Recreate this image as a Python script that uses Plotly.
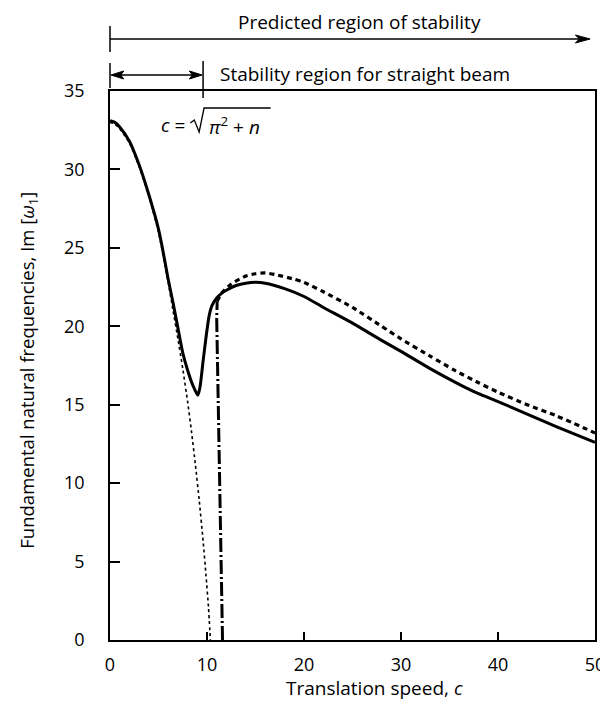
import plotly.graph_objects as go

# Solid curve (predicted)
solid_c = [0, 0.5, 1, 2, 3, 4, 5, 5.4, 6, 6.5, 7, 7.5, 8, 8.5, 9.06, 9.3, 9.6, 9.9, 10.2, 10.5, 11.0, 11.5, 12, 13, 14, 15, 16, 18, 20, 22, 25, 28, 30, 33, 36, 38, 40, 43, 46, 50]
solid_v = [33.1, 33.0, 32.7, 31.8, 30.3, 28.4, 26.2, 25.0, 23.0, 21.5, 19.9, 18.3, 17.2, 16.3, 15.6, 16.2, 17.8, 19.3, 20.6, 21.3, 21.8, 22.1, 22.3, 22.6, 22.75, 22.8, 22.75, 22.4, 21.9, 21.2, 20.2, 19.1, 18.4, 17.3, 16.3, 15.7, 15.2, 14.4, 13.6, 12.6]

# Dotted curve (straight beam)
dot_c = [0, 0.5, 1, 2, 3, 4, 5, 6, 6.5, 7, 7.5, 8, 8.4, 8.8, 9.2, 9.6, 9.9, 10.15, 10.35]
dot_v = [33.0, 32.9, 32.6, 31.7, 30.2, 28.3, 26.0, 22.8, 21.0, 19.2, 17.3, 15.2, 13.3, 11.2, 8.9, 6.3, 4.1, 2.1, 0]

# Dash-dot branch
dd_c = [11.6, 11.45, 11.3, 11.18, 11.08, 11.0, 11.05]
dd_v = [0, 5, 10, 14, 18, 20.5, 21.6]

# Dashed curve
dash_c = [11.05, 11.5, 12.5, 14, 15, 16, 17, 19, 20, 22, 25, 28, 30, 33, 35.5, 38, 40, 43, 46, 50]
dash_v = [21.6, 22.1, 22.7, 23.2, 23.35, 23.4, 23.3, 23.0, 22.8, 22.2, 21.2, 20.0, 19.2, 18.1, 17.2, 16.4, 15.8, 15.0, 14.3, 13.2]

x_ticks = [0, 10, 20, 30, 40, 50]
y_ticks = [0, 5, 10, 15, 20, 25, 30, 35]

FONT = "Open Sans"
fig = go.Figure()
fig.add_trace(go.Scatter(x=dot_c, y=dot_v, mode="lines", line=dict(color="black", width=1.6, dash="dot", shape="spline", smoothing=0.5), showlegend=False))
fig.add_trace(go.Scatter(x=solid_c, y=solid_v, mode="lines", line=dict(color="black", width=3, shape="spline", smoothing=0.5), showlegend=False))
fig.add_trace(go.Scatter(x=dd_c, y=dd_v, mode="lines", line=dict(color="black", width=3, dash="14px,3px,2px,3px"), showlegend=False))
fig.add_trace(go.Scatter(x=dash_c, y=dash_v, mode="lines", line=dict(color="black", width=3.2, dash="5px,4px", shape="spline", smoothing=0.6), showlegend=False))

L, R, T, B = 102, 11, 83, 70
W, H = 608, 702
pw, ph = W - L - R, H - T - B

def px(xp):
    return (xp - L) / pw

def py(yp):
    return (H - B - yp) / ph

def path(points, close=False):
    s = "M " + " L ".join("{:.5f},{:.5f}".format(px(a), py(b)) for a, b in points)
    return s + (" Z" if close else "")

fig.update_layout(
    width=W, height=H,
    margin=dict(l=L, r=R, t=T, b=B),
    paper_bgcolor="white", plot_bgcolor="white",
    font=dict(family=FONT, color="black", size=18),
    xaxis=dict(range=[0, 50], tickvals=x_ticks, ticktext=[str(v) for v in x_ticks],
               ticks="inside", ticklen=8, tickwidth=1.5, tickcolor="black",
               showline=True, linecolor="black", linewidth=1.5, mirror=True,
               showgrid=False, zeroline=False, ticklabelstandoff=8,
               tickfont=dict(size=18)),
    yaxis=dict(range=[0, 35], tickvals=y_ticks, ticktext=[str(v) for v in y_ticks],
               ticks="inside", ticklen=10, tickwidth=1.5, tickcolor="black",
               showline=True, linecolor="black", linewidth=1.5, mirror=True,
               showgrid=False, zeroline=False, ticklabelstandoff=20,
               tickfont=dict(size=18)),
)

ann = []
# axis titles
ann.append(dict(text="Translation speed, <i>c</i>", xref="paper", yref="paper", x=px(372), y=py(680),
                showarrow=False, font=dict(size=19), xanchor="center", yanchor="middle"))
ann.append(dict(text="Fundamental natural frequencies, Im [<i>ω</i><sub>1</sub>]", xref="paper", yref="paper",
                x=px(18), y=py(362), textangle=-90, showarrow=False, font=dict(size=18.5),
                xanchor="center", yanchor="middle"))
# top texts
ann.append(dict(text="Predicted region of stability", xref="paper", yref="paper", x=px(357), y=py(14),
                showarrow=False, font=dict(size=19), xanchor="center", yanchor="middle"))
ann.append(dict(text="Stability region for straight beam", xref="paper", yref="paper", x=px(212), y=py(66),
                showarrow=False, font=dict(size=19), xanchor="left", yanchor="middle"))
# formula  c = sqrt(pi^2 + n)
ann.append(dict(text="<i>c</i> =", xref="paper", yref="paper",
                x=px(181), y=py(117), showarrow=False, font=dict(size=19), xanchor="right", yanchor="middle"))
ann.append(dict(text="<i>π</i><sup>2</sup> + <i>n</i>", xref="paper", yref="paper",
                x=px(201), y=py(118), showarrow=False, font=dict(size=19), xanchor="left", yanchor="middle"))
fig.update_layout(annotations=ann)

blk = dict(color="black", width=1.5)
shapes = [
    # predicted-region arrow
    dict(type="line", xref="paper", yref="paper", x0=0, x1=px(584), y0=py(31), y1=py(31), line=blk),
    dict(type="path", xref="paper", yref="paper", path=path([(592, 31), (577, 27), (581, 31), (577, 35)], True),
         line=dict(color="black", width=1), fillcolor="black"),
    dict(type="line", xref="paper", yref="paper", x0=0, x1=0, y0=py(18), y1=py(44), line=blk),
    # straight-beam double arrow
    dict(type="line", xref="paper", yref="paper", x0=px(108), x1=px(190), y0=py(67), y1=py(67), line=blk),
    dict(type="path", xref="paper", yref="paper", path=path([(196, 67), (183, 63), (186, 67), (183, 71)], True),
         line=dict(color="black", width=1), fillcolor="black"),
    dict(type="path", xref="paper", yref="paper", path=path([(103, 67), (116, 63), (113, 67), (116, 71)], True),
         line=dict(color="black", width=1), fillcolor="black"),
    dict(type="line", xref="paper", yref="paper", x0=0, x1=0, y0=py(55), y1=py(80), line=blk),
    dict(type="line", xref="paper", yref="paper", x0=px(197), x1=px(197), y0=py(53), y1=py(90), line=blk),
    # radical sign
    dict(type="path", xref="paper", yref="paper",
         path=path([(184, 115), (188, 112), (193, 124), (198, 100), (266, 100)]),
         line=dict(color="black", width=1.3)),
]
fig.update_layout(shapes=shapes)

fig.write_html("out.html")
